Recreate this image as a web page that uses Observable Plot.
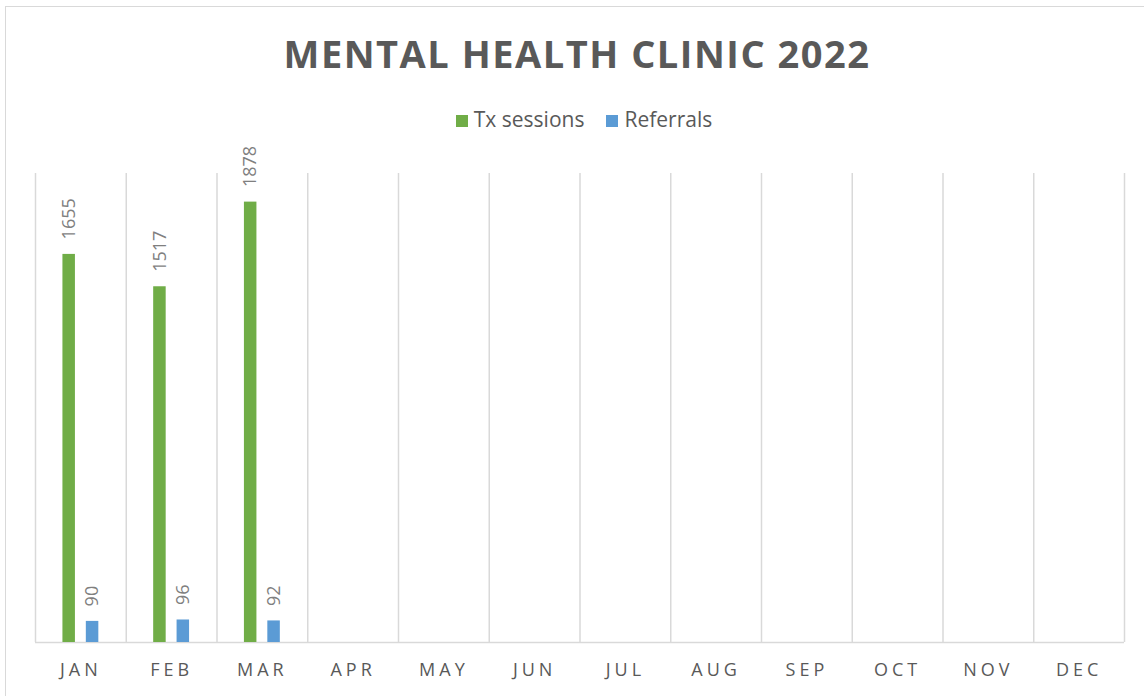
<!DOCTYPE html>
<html>
<head>
<meta charset="utf-8">
<script src="https://cdn.jsdelivr.net/npm/d3@7"></script>
<script src="https://cdn.jsdelivr.net/npm/@observablehq/plot@0.6"></script>
<style>
html, body { margin: 0; padding: 0; background: #fff; overflow: hidden; }
#wrap { position: relative; width: 1144px; height: 696px; overflow: hidden; font-family: "Open Sans", sans-serif; background: #fff; }
#border { position: absolute; left: 5px; top: 6px; width: 1300px; height: 900px; border-top: 1.5px solid #d9d9d9; border-left: 1.5px solid #d9d9d9; }
#title { position: absolute; left: 0; top: 34px; width: 1154px; text-align: center; font-size: 38px; line-height: 38px; font-weight: 700; color: #595959; letter-spacing: 1.5px; white-space: nowrap; }
#legend { position: absolute; left: 0; top: 109px; width: 1168px; display: flex; justify-content: center; font-size: 21px; line-height: 21px; color: #595959; }
.item { display: flex; align-items: baseline; margin: 0 11px; }
.sw { display: inline-block; width: 12px; height: 12px; margin-right: 6px; }
#chart { position: absolute; left: 0; top: 150px; }
#chart svg [aria-label^="x-axis"] text { font-size: 18px !important; letter-spacing: 4px; fill: #595959; }
</style>
</head>
<body>
<div id="wrap">
  <div id="border"></div>
  <div id="title"></div>
  <div id="legend"></div>
  <div id="chart"></div>
</div>
<script>
// ---- data ----
const chartTitle = "MENTAL HEALTH CLINIC 2022";
const months = ["JAN", "FEB", "MAR", "APR", "MAY", "JUN", "JUL", "AUG", "SEP", "OCT", "NOV", "DEC"];
const seriesNames = ["Tx sessions", "Referrals"];
const seriesColors = ["#70AD47", "#5B9BD5"];
const txSessions = [1655, 1517, 1878];
const referrals = [90, 96, 92];

const txData = txSessions.map((v, i) => ({month: months[i], value: v, series: seriesNames[0]}));
const rfData = referrals.map((v, i) => ({month: months[i], value: v, series: seriesNames[1]}));

// ---- title & legend ----
document.getElementById("title").textContent = chartTitle;
const legend = document.getElementById("legend");
seriesNames.forEach((name, i) => {
  const item = document.createElement("span");
  item.className = "item";
  const sw = document.createElement("span");
  sw.className = "sw";
  sw.style.background = seriesColors[i];
  item.appendChild(sw);
  item.appendChild(document.createTextNode(name));
  legend.appendChild(item);
});

// ---- chart ----
const W = 1144, H = 546, ML = 35, MR = 20, MT = 23, MB = 54;
const bw = (W - ML - MR) / months.length;
const barW = 12.5, off = 11.7;
const inset = (bw - barW) / 2;
const grid = {stroke: "#d9d9d9", strokeWidth: 1.5};

const chart = Plot.plot({
  width: W, height: H,
  marginLeft: ML, marginRight: MR, marginTop: MT, marginBottom: MB,
  style: {fontFamily: "Open Sans, sans-serif", background: "transparent", color: "#595959", overflow: "visible"},
  x: {domain: months, padding: 0, round: false, tickSize: 0, tickPadding: 21, label: null},
  y: {domain: [0, 2000], axis: null},
  marks: [
    Plot.ruleX(months, {x: d => d, dx: -bw / 2, ...grid}),
    Plot.ruleX(months.slice(-1), {x: d => d, dx: bw / 2, ...grid}),
    Plot.ruleY([0], grid),
    Plot.barY(txData, {x: "month", y: "value", fill: seriesColors[0], insetLeft: inset, insetRight: inset, dx: -off}),
    Plot.barY(rfData, {x: "month", y: "value", fill: seriesColors[1], insetLeft: inset, insetRight: inset, dx: off}),
    Plot.text(txData, {x: "month", y: "value", text: d => String(d.value), rotate: -90, textAnchor: "start", dx: -off, dy: -15, fill: "#7f7f7f", fontSize: 18}),
    Plot.text(rfData, {x: "month", y: "value", text: d => String(d.value), rotate: -90, textAnchor: "start", dx: off, dy: -15, fill: "#7f7f7f", fontSize: 18})
  ]
});
document.getElementById("chart").appendChild(chart);
</script>
</body>
</html>
